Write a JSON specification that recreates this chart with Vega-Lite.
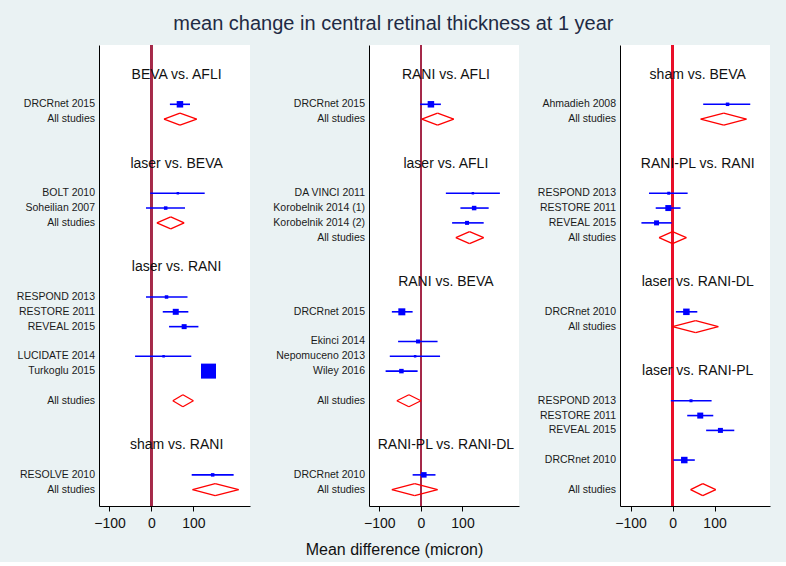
{
  "$schema": "https://vega.github.io/schema/vega-lite/v6.json",
  "background": "#eaf2f3",
  "padding": {"left": 16, "top": 14, "right": 18, "bottom": 5},
  "title": {"text": "mean change in central retinal thickness at 1 year", "fontSize": 20, "font": "Liberation Sans", "fontWeight": "normal", "color": "#1f2a44", "offset": 10, "anchor": "middle"},
  "config": {"view": {"fill": "white", "stroke": null}, "font": "Liberation Sans"},
  "datasets": {
    "fp": [
      {"p": 1, "row": 2, "type": "title", "label": "BEVA vs. AFLI"},
      {"p": 1, "row": 4, "type": "study", "label": "DRCRnet 2015", "est": 68, "lo": 44, "hi": 92, "w": 6.5},
      {"p": 1, "row": 5, "type": "all", "label": "All studies", "est": 68, "lo": 30, "hi": 108},
      {"p": 1, "row": 8, "type": "title", "label": "laser vs. BEVA"},
      {"p": 1, "row": 10, "type": "study", "label": "BOLT 2010", "est": 63, "lo": -3, "hi": 127, "w": 2.5},
      {"p": 1, "row": 11, "type": "study", "label": "Soheilian 2007", "est": 34, "lo": -13, "hi": 80, "w": 3.5},
      {"p": 1, "row": 12, "type": "all", "label": "All studies", "est": 46, "lo": 13, "hi": 78},
      {"p": 1, "row": 15, "type": "title", "label": "laser vs. RANI"},
      {"p": 1, "row": 17, "type": "study", "label": "RESPOND 2013", "est": 36, "lo": -13, "hi": 86, "w": 3.5},
      {"p": 1, "row": 18, "type": "study", "label": "RESTORE 2011", "est": 58, "lo": 27, "hi": 88, "w": 6},
      {"p": 1, "row": 19, "type": "study", "label": "REVEAL 2015", "est": 78, "lo": 42, "hi": 112, "w": 5},
      {"p": 1, "row": 21, "type": "study", "label": "LUCIDATE 2014", "est": 29, "lo": -39, "hi": 95, "w": 2.5},
      {"p": 1, "row": 22, "type": "study", "label": "Turkoglu 2015", "est": 136, "lo": 128, "hi": 144, "w": 15},
      {"p": 1, "row": 24, "type": "all", "label": "All studies", "est": 75, "lo": 51, "hi": 100},
      {"p": 1, "row": 27, "type": "title", "label": "sham vs. RANI"},
      {"p": 1, "row": 29, "type": "study", "label": "RESOLVE 2010", "est": 146, "lo": 96, "hi": 196, "w": 3.5},
      {"p": 1, "row": 30, "type": "all", "label": "All studies", "est": 152, "lo": 98, "hi": 208},

      {"p": 2, "row": 2, "type": "title", "label": "RANI vs. AFLI"},
      {"p": 2, "row": 4, "type": "study", "label": "DRCRnet 2015", "est": 24, "lo": -2, "hi": 48, "w": 6.5},
      {"p": 2, "row": 5, "type": "all", "label": "All studies", "est": 40, "lo": 2, "hi": 79},
      {"p": 2, "row": 8, "type": "title", "label": "laser vs. AFLI"},
      {"p": 2, "row": 10, "type": "study", "label": "DA VINCI 2011", "est": 125, "lo": 60, "hi": 190, "w": 2.5},
      {"p": 2, "row": 11, "type": "study", "label": "Korobelnik 2014 (1)", "est": 128, "lo": 95, "hi": 163, "w": 4.5},
      {"p": 2, "row": 12, "type": "study", "label": "Korobelnik 2014 (2)", "est": 111, "lo": 75, "hi": 151, "w": 4},
      {"p": 2, "row": 13, "type": "all", "label": "All studies", "est": 117, "lo": 84, "hi": 151},
      {"p": 2, "row": 16, "type": "title", "label": "RANI vs. BEVA"},
      {"p": 2, "row": 18, "type": "study", "label": "DRCRnet 2015", "est": -46, "lo": -70, "hi": -20, "w": 7},
      {"p": 2, "row": 20, "type": "study", "label": "Ekinci 2014", "est": -7, "lo": -55, "hi": 40, "w": 4},
      {"p": 2, "row": 21, "type": "study", "label": "Nepomuceno 2013", "est": -14, "lo": -75, "hi": 46, "w": 2.5},
      {"p": 2, "row": 22, "type": "study", "label": "Wiley 2016", "est": -47, "lo": -85, "hi": -8, "w": 4.5},
      {"p": 2, "row": 24, "type": "all", "label": "All studies", "est": -29, "lo": -58, "hi": 0},
      {"p": 2, "row": 27, "type": "title", "label": "RANI-PL vs. RANI-DL"},
      {"p": 2, "row": 29, "type": "study", "label": "DRCRnet 2010", "est": 7, "lo": -20, "hi": 35, "w": 5.5},
      {"p": 2, "row": 30, "type": "all", "label": "All studies", "est": -15, "lo": -70, "hi": 40},

      {"p": 3, "row": 2, "type": "title", "label": "sham vs. BEVA"},
      {"p": 3, "row": 4, "type": "study", "label": "Ahmadieh 2008", "est": 131, "lo": 73, "hi": 185, "w": 3.5},
      {"p": 3, "row": 5, "type": "all", "label": "All studies", "est": 122, "lo": 67, "hi": 176},
      {"p": 3, "row": 8, "type": "title", "label": "RANI-PL vs. RANI"},
      {"p": 3, "row": 10, "type": "study", "label": "RESPOND 2013", "est": -9, "lo": -56, "hi": 36, "w": 3},
      {"p": 3, "row": 11, "type": "study", "label": "RESTORE 2011", "est": -10, "lo": -40, "hi": 19, "w": 6},
      {"p": 3, "row": 12, "type": "study", "label": "REVEAL 2015", "est": -38, "lo": -74, "hi": -2, "w": 5},
      {"p": 3, "row": 13, "type": "all", "label": "All studies", "est": 0, "lo": -32, "hi": 33},
      {"p": 3, "row": 16, "type": "title", "label": "laser vs. RANI-DL"},
      {"p": 3, "row": 18, "type": "study", "label": "DRCRnet 2010", "est": 33, "lo": 8, "hi": 59, "w": 6.5},
      {"p": 3, "row": 19, "type": "all", "label": "All studies", "est": 55, "lo": 0, "hi": 109},
      {"p": 3, "row": 22, "type": "title", "label": "laser vs. RANI-PL"},
      {"p": 3, "row": 24, "type": "study", "label": "RESPOND 2013", "est": 44, "lo": -4, "hi": 93, "w": 3},
      {"p": 3, "row": 25, "type": "study", "label": "RESTORE 2011", "est": 66, "lo": 35, "hi": 97, "w": 6},
      {"p": 3, "row": 26, "type": "study", "label": "REVEAL 2015", "est": 114, "lo": 80, "hi": 147, "w": 5},
      {"p": 3, "row": 28, "type": "study", "label": "DRCRnet 2010", "est": 28, "lo": 2, "hi": 53, "w": 6.5},
      {"p": 3, "row": 30, "type": "all", "label": "All studies", "est": 72, "lo": 43, "hi": 103}
    ]
  },
  "bounds": "flush",
  "spacing": 119,
  "hconcat": [
    {
      "width": 151, "height": 461,
      "data": {"name": "fp"},
      "transform": [{"filter": "datum.p == 1"}],
      "layer": [
        {"mark": {"type": "rule", "color": "#a52a4a", "strokeWidth": 1.5},
         "encoding": {"x": {"datum": 0, "type": "quantitative", "scale": {"domain": [-125, 235], "nice": false, "zero": false}}}},
        {"transform": [{"filter": "datum.type == 'study'"}],
         "mark": {"type": "rule", "color": "#0000ff", "strokeWidth": 1.6},
         "encoding": {
           "x": {"field": "lo", "type": "quantitative", "scale": {"domain": [-125, 235], "nice": false, "zero": false},
                 "axis": {"values": [-100, 0, 100], "domainColor": "#000", "tickColor": "#000", "tickSize": 5, "labelFontSize": 14, "labelColor": "#111", "labelPadding": 5, "grid": false, "title": null}},
           "x2": {"field": "hi"},
           "y": {"field": "row", "type": "quantitative", "scale": {"domain": [0, 31.1], "reverse": true, "nice": false, "zero": false},
                 "axis": {"domain": true, "domainColor": "#000", "ticks": false, "labels": false, "grid": false, "title": null}}}},
        {"transform": [{"filter": "datum.type == 'study'"}],
         "mark": {"type": "point", "shape": "square", "filled": true, "color": "#0000ff", "opacity": 1, "strokeWidth": 0},
         "encoding": {
           "x": {"field": "est", "type": "quantitative", "scale": {"domain": [-125, 235], "nice": false, "zero": false}},
           "y": {"field": "row", "type": "quantitative", "scale": {"domain": [0, 31.1], "reverse": true, "nice": false, "zero": false}},
           "size": {"field": "w", "type": "quantitative", "scale": {"type": "pow", "exponent": 2, "domain": [0, 15], "range": [0, 225]}, "legend": null}}},
        {"transform": [{"filter": "datum.type == 'all'"}],
         "mark": {"type": "rule", "color": "#ff0000", "strokeWidth": 1.3, "y2Offset": -6},
         "encoding": {"x": {"field": "lo", "type": "quantitative"}, "x2": {"field": "est"}, "y": {"field": "row", "type": "quantitative"}, "y2": {"field": "row"}}},
        {"transform": [{"filter": "datum.type == 'all'"}],
         "mark": {"type": "rule", "color": "#ff0000", "strokeWidth": 1.3, "yOffset": -6},
         "encoding": {"x": {"field": "est", "type": "quantitative"}, "x2": {"field": "hi"}, "y": {"field": "row", "type": "quantitative"}, "y2": {"field": "row"}}},
        {"transform": [{"filter": "datum.type == 'all'"}],
         "mark": {"type": "rule", "color": "#ff0000", "strokeWidth": 1.3, "y2Offset": 6},
         "encoding": {"x": {"field": "hi", "type": "quantitative"}, "x2": {"field": "est"}, "y": {"field": "row", "type": "quantitative"}, "y2": {"field": "row"}}},
        {"transform": [{"filter": "datum.type == 'all'"}],
         "mark": {"type": "rule", "color": "#ff0000", "strokeWidth": 1.3, "yOffset": 6},
         "encoding": {"x": {"field": "est", "type": "quantitative"}, "x2": {"field": "lo"}, "y": {"field": "row", "type": "quantitative"}, "y2": {"field": "row"}}},
        {"transform": [{"filter": "datum.type != 'title'"}],
         "mark": {"type": "text", "align": "right", "baseline": "middle", "dx": -4, "fontSize": 10.5, "color": "#1a1a1a"},
         "encoding": {"x": {"datum": -125, "type": "quantitative"}, "y": {"field": "row", "type": "quantitative"}, "text": {"field": "label"}}},
        {"transform": [{"filter": "datum.type == 'title'"}],
         "mark": {"type": "text", "align": "center", "baseline": "middle", "fontSize": 14, "color": "#111"},
         "encoding": {"x": {"datum": 60, "type": "quantitative"}, "y": {"field": "row", "type": "quantitative"}, "text": {"field": "label"}}}
      ]
    },
    {
      "bounds": "flush",
      "spacing": 101,
      "hconcat": [
        {
          "width": 150, "height": 461,
          "data": {"name": "fp"},
          "transform": [{"filter": "datum.p == 2"}],
          "layer": [
            {"mark": {"type": "rule", "color": "#a52a4a", "strokeWidth": 1.5},
             "encoding": {"x": {"datum": 0, "type": "quantitative", "scale": {"domain": [-125, 236], "nice": false, "zero": false}}}},
            {"transform": [{"filter": "datum.type == 'study'"}],
             "mark": {"type": "rule", "color": "#0000ff", "strokeWidth": 1.6},
             "encoding": {
               "x": {"field": "lo", "type": "quantitative", "scale": {"domain": [-125, 236], "nice": false, "zero": false},
                     "axis": {"values": [-100, 0, 100], "domainColor": "#000", "tickColor": "#000", "tickSize": 5, "labelFontSize": 14, "labelColor": "#111", "labelPadding": 5, "grid": false,
                              "title": "Mean difference (micron)", "titleFontSize": 16, "titleFontWeight": "normal", "titleColor": "#111", "titlePadding": 11, "titleX": 25}},
               "x2": {"field": "hi"},
               "y": {"field": "row", "type": "quantitative", "scale": {"domain": [0, 31.1], "reverse": true, "nice": false, "zero": false},
                     "axis": {"domain": true, "domainColor": "#000", "ticks": false, "labels": false, "grid": false, "title": null}}}},
            {"transform": [{"filter": "datum.type == 'study'"}],
             "mark": {"type": "point", "shape": "square", "filled": true, "color": "#0000ff", "opacity": 1, "strokeWidth": 0},
             "encoding": {
               "x": {"field": "est", "type": "quantitative", "scale": {"domain": [-125, 236], "nice": false, "zero": false}},
               "y": {"field": "row", "type": "quantitative", "scale": {"domain": [0, 31.1], "reverse": true, "nice": false, "zero": false}},
               "size": {"field": "w", "type": "quantitative", "scale": {"type": "pow", "exponent": 2, "domain": [0, 15], "range": [0, 225]}, "legend": null}}},
            {"transform": [{"filter": "datum.type == 'all'"}],
             "mark": {"type": "rule", "color": "#ff0000", "strokeWidth": 1.3, "y2Offset": -6},
             "encoding": {"x": {"field": "lo", "type": "quantitative"}, "x2": {"field": "est"}, "y": {"field": "row", "type": "quantitative"}, "y2": {"field": "row"}}},
            {"transform": [{"filter": "datum.type == 'all'"}],
             "mark": {"type": "rule", "color": "#ff0000", "strokeWidth": 1.3, "yOffset": -6},
             "encoding": {"x": {"field": "est", "type": "quantitative"}, "x2": {"field": "hi"}, "y": {"field": "row", "type": "quantitative"}, "y2": {"field": "row"}}},
            {"transform": [{"filter": "datum.type == 'all'"}],
             "mark": {"type": "rule", "color": "#ff0000", "strokeWidth": 1.3, "y2Offset": 6},
             "encoding": {"x": {"field": "hi", "type": "quantitative"}, "x2": {"field": "est"}, "y": {"field": "row", "type": "quantitative"}, "y2": {"field": "row"}}},
            {"transform": [{"filter": "datum.type == 'all'"}],
             "mark": {"type": "rule", "color": "#ff0000", "strokeWidth": 1.3, "yOffset": 6},
             "encoding": {"x": {"field": "est", "type": "quantitative"}, "x2": {"field": "lo"}, "y": {"field": "row", "type": "quantitative"}, "y2": {"field": "row"}}},
            {"transform": [{"filter": "datum.type != 'title'"}],
             "mark": {"type": "text", "align": "right", "baseline": "middle", "dx": -4, "fontSize": 10.5, "color": "#1a1a1a"},
             "encoding": {"x": {"datum": -125, "type": "quantitative"}, "y": {"field": "row", "type": "quantitative"}, "text": {"field": "label"}}},
            {"transform": [{"filter": "datum.type == 'title'"}],
             "mark": {"type": "text", "align": "center", "baseline": "middle", "fontSize": 14, "color": "#111"},
             "encoding": {"x": {"datum": 60, "type": "quantitative"}, "y": {"field": "row", "type": "quantitative"}, "text": {"field": "label"}}}
          ]
        },
        {
          "width": 150, "height": 461,
          "data": {"name": "fp"},
          "transform": [{"filter": "datum.p == 3"}],
          "layer": [
            {"mark": {"type": "rule", "color": "#e8102a", "strokeWidth": 1.5},
             "encoding": {"x": {"datum": 0, "type": "quantitative", "scale": {"domain": [-125, 232], "nice": false, "zero": false}}}},
            {"transform": [{"filter": "datum.type == 'study'"}],
             "mark": {"type": "rule", "color": "#0000ff", "strokeWidth": 1.6},
             "encoding": {
               "x": {"field": "lo", "type": "quantitative", "scale": {"domain": [-125, 232], "nice": false, "zero": false},
                     "axis": {"values": [-100, 0, 100], "domainColor": "#000", "tickColor": "#000", "tickSize": 5, "labelFontSize": 14, "labelColor": "#111", "labelPadding": 5, "grid": false, "title": null}},
               "x2": {"field": "hi"},
               "y": {"field": "row", "type": "quantitative", "scale": {"domain": [0, 31.1], "reverse": true, "nice": false, "zero": false},
                     "axis": {"domain": true, "domainColor": "#000", "ticks": false, "labels": false, "grid": false, "title": null}}}},
            {"transform": [{"filter": "datum.type == 'study'"}],
             "mark": {"type": "point", "shape": "square", "filled": true, "color": "#0000ff", "opacity": 1, "strokeWidth": 0},
             "encoding": {
               "x": {"field": "est", "type": "quantitative", "scale": {"domain": [-125, 232], "nice": false, "zero": false}},
               "y": {"field": "row", "type": "quantitative", "scale": {"domain": [0, 31.1], "reverse": true, "nice": false, "zero": false}},
               "size": {"field": "w", "type": "quantitative", "scale": {"type": "pow", "exponent": 2, "domain": [0, 15], "range": [0, 225]}, "legend": null}}},
            {"transform": [{"filter": "datum.type == 'all'"}],
             "mark": {"type": "rule", "color": "#ff0000", "strokeWidth": 1.3, "y2Offset": -6},
             "encoding": {"x": {"field": "lo", "type": "quantitative"}, "x2": {"field": "est"}, "y": {"field": "row", "type": "quantitative"}, "y2": {"field": "row"}}},
            {"transform": [{"filter": "datum.type == 'all'"}],
             "mark": {"type": "rule", "color": "#ff0000", "strokeWidth": 1.3, "yOffset": -6},
             "encoding": {"x": {"field": "est", "type": "quantitative"}, "x2": {"field": "hi"}, "y": {"field": "row", "type": "quantitative"}, "y2": {"field": "row"}}},
            {"transform": [{"filter": "datum.type == 'all'"}],
             "mark": {"type": "rule", "color": "#ff0000", "strokeWidth": 1.3, "y2Offset": 6},
             "encoding": {"x": {"field": "hi", "type": "quantitative"}, "x2": {"field": "est"}, "y": {"field": "row", "type": "quantitative"}, "y2": {"field": "row"}}},
            {"transform": [{"filter": "datum.type == 'all'"}],
             "mark": {"type": "rule", "color": "#ff0000", "strokeWidth": 1.3, "yOffset": 6},
             "encoding": {"x": {"field": "est", "type": "quantitative"}, "x2": {"field": "lo"}, "y": {"field": "row", "type": "quantitative"}, "y2": {"field": "row"}}},
            {"transform": [{"filter": "datum.type != 'title'"}],
             "mark": {"type": "text", "align": "right", "baseline": "middle", "dx": -4, "fontSize": 10.5, "color": "#1a1a1a"},
             "encoding": {"x": {"datum": -125, "type": "quantitative"}, "y": {"field": "row", "type": "quantitative"}, "text": {"field": "label"}}},
            {"transform": [{"filter": "datum.type == 'title'"}],
             "mark": {"type": "text", "align": "center", "baseline": "middle", "fontSize": 14, "color": "#111"},
             "encoding": {"x": {"datum": 60, "type": "quantitative"}, "y": {"field": "row", "type": "quantitative"}, "text": {"field": "label"}}}
          ]
        }
      ]
    }
  ]
}
